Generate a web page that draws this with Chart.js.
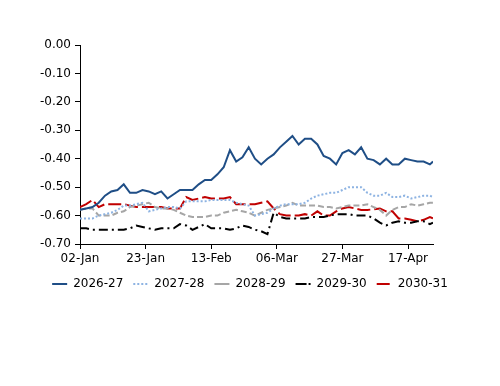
<!DOCTYPE html>
<html>
<head>
<meta charset="utf-8">
<script src="https://cdn.jsdelivr.net/npm/chart.js@4.4.1/dist/chart.umd.min.js"></script>
<style>
html,body{margin:0;padding:0;background:#fff;}
#wrap{width:500px;height:386px;position:relative;}
</style>
</head>
<body>
<div id="wrap"><canvas id="c" width="500" height="386"></canvas></div>
<script>
// Days since 02-Jan
const days = [0,2,4,6,8,10,12,14,16,18,20,22,24,26,28,30,32,34,36,38,40,42,44,46,48,50,52,54,56,58,60,62,64,66,68,70,72,74,76,78,80,82,84,86,88,90,92,94,96,98,100,102,104,106,108,110,112,113];
const tickDays = [0,21,42,63,84,105];
const tickLabels = ["02-Jan","23-Jan","13-Feb","06-Mar","27-Mar","17-Apr"];
const seriesNames = ["2026-27","2027-28","2028-29","2029-30","2030-31"];

const s2026 = [-0.58,-0.575,-0.57,-0.555,-0.53,-0.515,-0.51,-0.49,-0.52,-0.52,-0.51,-0.515,-0.525,-0.515,-0.54,-0.525,-0.51,-0.51,-0.51,-0.49,-0.475,-0.475,-0.455,-0.43,-0.37,-0.41,-0.395,-0.36,-0.40,-0.42,-0.40,-0.385,-0.36,-0.34,-0.32,-0.35,-0.33,-0.33,-0.35,-0.39,-0.40,-0.42,-0.38,-0.37,-0.385,-0.36,-0.40,-0.405,-0.42,-0.40,-0.42,-0.42,-0.40,-0.405,-0.41,-0.41,-0.42,-0.41];
const s2027 = [-0.61,-0.61,-0.61,-0.60,-0.595,-0.59,-0.58,-0.565,-0.565,-0.56,-0.555,-0.585,-0.58,-0.575,-0.57,-0.57,-0.575,-0.55,-0.55,-0.55,-0.55,-0.545,-0.545,-0.545,-0.545,-0.555,-0.56,-0.565,-0.60,-0.595,-0.59,-0.575,-0.565,-0.56,-0.56,-0.56,-0.555,-0.54,-0.53,-0.525,-0.52,-0.52,-0.51,-0.50,-0.50,-0.50,-0.52,-0.53,-0.53,-0.52,-0.535,-0.535,-0.53,-0.54,-0.535,-0.53,-0.53,-0.535];
const s2028 = [-0.58,-0.575,-0.575,-0.60,-0.60,-0.60,-0.59,-0.585,-0.57,-0.565,-0.56,-0.555,-0.57,-0.575,-0.575,-0.58,-0.59,-0.60,-0.605,-0.605,-0.605,-0.60,-0.60,-0.59,-0.585,-0.58,-0.585,-0.59,-0.60,-0.59,-0.58,-0.575,-0.57,-0.565,-0.555,-0.565,-0.565,-0.565,-0.565,-0.57,-0.57,-0.575,-0.57,-0.565,-0.565,-0.565,-0.56,-0.57,-0.58,-0.60,-0.58,-0.57,-0.57,-0.56,-0.565,-0.56,-0.555,-0.555];
const s2029 = [-0.645,-0.645,-0.65,-0.65,-0.65,-0.65,-0.65,-0.65,-0.645,-0.635,-0.64,-0.645,-0.65,-0.645,-0.645,-0.645,-0.63,-0.635,-0.65,-0.64,-0.63,-0.645,-0.645,-0.645,-0.65,-0.645,-0.635,-0.64,-0.65,-0.655,-0.665,-0.59,-0.605,-0.61,-0.61,-0.61,-0.61,-0.605,-0.605,-0.605,-0.60,-0.595,-0.595,-0.595,-0.60,-0.60,-0.60,-0.61,-0.625,-0.635,-0.625,-0.62,-0.625,-0.625,-0.62,-0.62,-0.63,-0.625];
const s2030 = [-0.57,-0.56,-0.545,-0.57,-0.56,-0.56,-0.56,-0.56,-0.565,-0.57,-0.57,-0.57,-0.57,-0.57,-0.575,-0.575,-0.575,-0.535,-0.545,-0.54,-0.535,-0.54,-0.54,-0.54,-0.535,-0.56,-0.56,-0.56,-0.56,-0.555,-0.55,-0.575,-0.595,-0.60,-0.60,-0.60,-0.595,-0.60,-0.585,-0.60,-0.60,-0.585,-0.575,-0.57,-0.575,-0.58,-0.58,-0.578,-0.575,-0.585,-0.585,-0.61,-0.61,-0.615,-0.62,-0.615,-0.605,-0.61];

const seriesValues = [s2026,s2027,s2028,s2029,s2030];
const colors = ["#1F4E86","#8DB3E2","#A6A6A6","#000000","#C00000"];
const dashes = [[],[2,2],[6,3],[9,4,2,4],[13,4]];

const FONT = "'DejaVu Sans', sans-serif";

const datasets = seriesNames.map((name,i)=>({
  label: name,
  data: days.map((d,j)=>({x:d, y:seriesValues[i][j]})),
  borderColor: colors[i],
  backgroundColor: colors[i],
  borderWidth: 2,
  borderDash: dashes[i],
  pointRadius: 0,
  tension: 0,
  fill: false
}));

new Chart(document.getElementById('c'), {
  type: 'line',
  data: { datasets },
  options: {
    responsive: false,
    animation: false,
    layout: { padding: { top: 45, right: 0, left: 0, bottom: 86 } },
    plugins: {
      legend: {
        position: 'bottom',
        labels: {
          font: { family: FONT, size: 12 },
          color: '#000',
          boxWidth: 15,
          boxHeight: 0,
          padding: 10
        }
      },
      tooltip: { enabled: false }
    },
    scales: {
      x: {
        type: 'linear',
        min: 0,
        max: 113,
        afterBuildTicks: (s)=>{ s.ticks = tickDays.map(v=>({value:v})); },
        ticks: {
          font: { family: FONT, size: 12 },
          color: '#000',
          maxRotation: 0,
          autoSkip: false,
          padding: 3,
          callback: (v)=>{ const k = tickDays.indexOf(v); return k>=0 ? tickLabels[k] : ''; }
        },
        grid: { display: true, drawOnChartArea: false, drawTicks: true, tickLength: 5, color: '#000', lineWidth: 1 },
        border: { display: true, color: '#000', width: 1 },
        afterFit: (s)=>{ s.height = 24; }
      },
      y: {
        min: -0.70,
        max: 0,
        ticks: {
          stepSize: 0.1,
          font: { family: FONT, size: 12 },
          color: '#000',
          padding: 4,
          callback: (v)=> (Math.abs(v) < 1e-9 ? 0 : v).toFixed(2)
        },
        grid: { display: true, drawOnChartArea: false, drawTicks: true, tickLength: 5, color: '#000', lineWidth: 1 },
        border: { display: true, color: '#000', width: 1 },
        afterFit: (s)=>{ s.width = 80; }
      },
      yRight: {
        position: 'right',
        display: true,
        min: -0.70,
        max: 0,
        ticks: { display: false },
        grid: { display: false, drawTicks: false },
        border: { display: false },
        afterFit: (s)=>{ s.width = 67; }
      }
    }
  }
});
</script>
</body>
</html>
